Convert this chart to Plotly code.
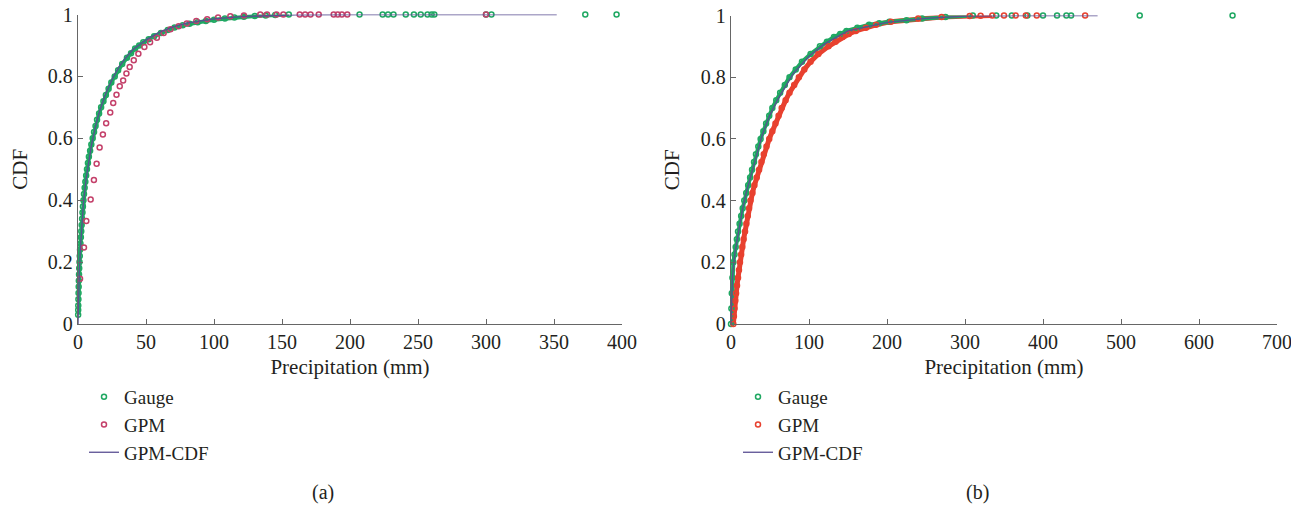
import plotly.graph_objects as go

# The page body has an 8px margin, so the figure is shifted by 8px; positions are given in page pixels.
PAGE_W, PAGE_H = 1299, 506
OFF = 8
W, H = PAGE_W - OFF, PAGE_H - OFF
FONT = "Liberation Serif"

def px(xp):
    return (xp - OFF) / W

def py(yp):
    return 1 - (yp - OFF) / H

# ---------------- Panel (a) ----------------
a_gauge_x = [0.1, 0.15, 0.2, 0.3, 0.4, 0.5, 0.6, 0.75, 0.9, 1.1, 1.3, 1.5, 1.8, 2.1, 2.4, 2.7, 3.0, 3.3, 3.6,
             4.0, 4.4, 4.9, 5.4, 6.0, 6.6, 7.3, 8.0, 8.9, 9.8, 10.8, 11.8, 12.9, 14.0, 15.5, 17.0, 18.7, 20.5,
             22.5, 24.5, 27.0, 29.5, 32.5, 36.0, 39.0, 42.0, 45.0, 48.0, 52.0, 56.0, 61.0, 66.0, 71.0, 77.0,
             82.0, 88.0, 94.0, 100.0, 108.0, 115.0, 122.0, 130.0, 138.0, 145.0, 155.0,
             207, 224, 228, 232, 241, 247, 252, 257, 260, 262, 300, 304, 373, 396]
a_gauge_y = [0.03, 0.045, 0.06, 0.08, 0.10, 0.12, 0.14, 0.16, 0.18, 0.20, 0.22, 0.24, 0.26, 0.28, 0.30, 0.32, 0.34, 0.36, 0.38,
             0.40, 0.42, 0.44, 0.46, 0.48, 0.50, 0.52, 0.54, 0.56, 0.58, 0.60, 0.62, 0.64, 0.66, 0.68, 0.70, 0.72, 0.74,
             0.76, 0.78, 0.80, 0.82, 0.84, 0.86, 0.875, 0.89, 0.90, 0.91, 0.92, 0.93, 0.94, 0.95, 0.958, 0.965,
             0.970, 0.975, 0.979, 0.983, 0.987, 0.990, 0.993, 0.995, 0.997, 0.998, 1.0,
             1, 1, 1, 1, 1, 1, 1, 1, 1, 1, 1, 1, 1, 1]

a_gpm_x = [1.5, 4.4, 6.1, 9.3, 11.7, 13.7, 15.9, 18.3, 20.7, 23.7, 25.9, 28.3, 30.7, 33.2, 35.6, 38.0, 41.0, 44.4,
           48.8, 53, 58, 63, 68, 74, 80, 87, 95, 103, 112, 122, 134, 139, 146, 151, 163, 167, 171, 177, 188, 191,
           194, 198, 300]
a_gpm_y = [0.146, 0.247, 0.333, 0.402, 0.465, 0.518, 0.570, 0.612, 0.649, 0.683, 0.714, 0.741, 0.768, 0.787, 0.809,
           0.830, 0.852, 0.873, 0.895, 0.91, 0.925, 0.94, 0.952, 0.962, 0.971, 0.979, 0.985, 0.990, 0.994, 0.997,
           1, 1, 1, 1, 1, 1, 1, 1, 1, 1, 1, 1, 1]

a_cdf_x = [0, 0.3, 0.6, 1, 2, 3, 4, 6, 8, 10, 13, 16, 20, 25, 30, 35, 40, 50, 60, 70, 80, 90, 100, 120, 140, 160,
           200, 250, 300, 352]
a_cdf_y = [0, 0.07, 0.12, 0.17, 0.26, 0.33, 0.39, 0.47, 0.53, 0.58, 0.64, 0.69, 0.74, 0.79, 0.83, 0.86, 0.885,
           0.918, 0.943, 0.96, 0.972, 0.98, 0.986, 0.993, 0.997, 0.999, 1, 1, 1, 1]

# ---------------- Panel (b) ----------------
b_gauge_x = [0, 0.5, 1.0, 1.8, 3.0, 4.5, 6.0, 7.5, 9.0, 11.0, 13.0, 15.0, 17.0, 19.5, 22.0, 24.5, 27.0, 29.5, 32.0,
             35.0, 38.0, 41.5, 45.0, 49.0, 53.0, 58.0, 63.0, 69.0, 75.0, 83.0, 91.0, 102.0, 114.0, 123.0, 132.0,
             140.0, 148.0, 162.0, 177.0, 190.0, 203.0, 225.0, 245.0, 275.0, 310.0, 340, 360, 380, 400, 418, 430,
             436, 524, 643]
b_gauge_y = [0, 0.05, 0.10, 0.15, 0.20, 0.225, 0.25, 0.275, 0.30, 0.325, 0.35, 0.375, 0.40, 0.425, 0.45, 0.475, 0.50,
             0.525, 0.55, 0.575, 0.60, 0.625, 0.65, 0.675, 0.70, 0.725, 0.75, 0.775, 0.80, 0.825, 0.85, 0.875, 0.90,
             0.915, 0.93, 0.94, 0.95, 0.96, 0.97, 0.975, 0.98, 0.985, 0.99, 0.995, 1.0, 1, 1, 1, 1, 1, 1,
             1, 1, 1]

b_gpm_x = [3.0, 3.7, 4.5, 5.5, 6.5, 7.7, 9.0, 10.2, 11.5, 13.0, 14.5, 16.2, 18.0, 19.7, 21.5, 23.2, 25.0, 27.5,
           30.0, 33.0, 36.0, 39.0, 42.0, 45.5, 49.0, 53.0, 57.0, 61.0, 65.0, 70.0, 75.0, 81.0, 87.0, 94.0, 102.0,
           112.0, 125.0, 134.0, 143.0, 151.0, 160.0, 173.0, 186.0, 205.0, 240.0, 270.0, 306, 320, 335, 350, 365,
           378, 392, 454]
b_gpm_y = [0, 0.025, 0.05, 0.075, 0.10, 0.125, 0.15, 0.175, 0.20, 0.225, 0.25, 0.275, 0.30, 0.325, 0.35, 0.375, 0.40,
           0.425, 0.45, 0.475, 0.50, 0.525, 0.55, 0.575, 0.60, 0.625, 0.65, 0.675, 0.70, 0.725, 0.75, 0.775, 0.80,
           0.825, 0.85, 0.875, 0.90, 0.915, 0.93, 0.94, 0.95, 0.96, 0.97, 0.98, 0.99, 0.995, 0.998, 0.999, 1, 1, 1,
           1, 1, 1]

b_cdf_x = [0, 1, 2, 5, 10, 15, 20, 30, 40, 50, 60, 80, 100, 120, 150, 200, 250, 300, 350, 400, 470]
b_cdf_y = [0, 0.10, 0.155, 0.23, 0.31, 0.375, 0.43, 0.525, 0.612, 0.678, 0.728, 0.812, 0.868, 0.908, 0.95, 0.978,
           0.991, 0.998, 1, 1, 1]

y_ticks = [0, 0.2, 0.4, 0.6, 0.8, 1]
y_tick_text = ["0", "0.2", "0.4", "0.6", "0.8", "1"]
a_x_ticks = [0, 50, 100, 150, 200, 250, 300, 350, 400]
b_x_ticks = [0, 100, 200, 300, 400, 500, 600, 700]

GREEN = "#1fa862"
RED_A = "#c4406a"
RED_B = "#e8412f"
LINE = "#5a4f92"

fig = go.Figure()

def curve_part(xs, ys):
    # the dense rising part of the empirical CDF (up to the first point that reaches 1)
    n = next(i for i, v in enumerate(ys) if v >= 1) + 1
    return xs[:n], ys[:n]

def panel(xa, ya, gx, gy, rx, ry, cx, cy, red_col, red_band, legend):
    if red_band:
        bx, by = curve_part(rx, ry)
        fig.add_trace(go.Scatter(x=bx, y=by, mode="lines", line=dict(color=red_col, width=5),
                                 xaxis=xa, yaxis=ya, showlegend=False, cliponaxis=False, hoverinfo="skip"))
    bx, by = curve_part(gx, gy)
    fig.add_trace(go.Scatter(x=bx, y=by, mode="lines", line=dict(color=GREEN, width=4),
                             xaxis=xa, yaxis=ya, showlegend=False, cliponaxis=False, hoverinfo="skip"))
    fig.add_trace(go.Scatter(x=gx, y=gy, mode="markers", name="Gauge",
                             marker=dict(symbol="circle-open", size=5, color=GREEN, line=dict(width=1.5)),
                             xaxis=xa, yaxis=ya, legend=legend, cliponaxis=False))
    fig.add_trace(go.Scatter(x=rx, y=ry, mode="markers", name="GPM",
                             marker=dict(symbol="circle-open", size=5, color=red_col, line=dict(width=1.5)),
                             xaxis=xa, yaxis=ya, legend=legend, cliponaxis=False))
    fig.add_trace(go.Scatter(x=cx, y=cy, mode="lines", name="GPM-CDF",
                             line=dict(color=LINE, width=1.3),
                             xaxis=xa, yaxis=ya, legend=legend, cliponaxis=False))

panel("x", "y", a_gauge_x, a_gauge_y, a_gpm_x, a_gpm_y, a_cdf_x, a_cdf_y, RED_A, False, "legend")
panel("x2", "y2", b_gauge_x, b_gauge_y, b_gpm_x, b_gpm_y, b_cdf_x, b_cdf_y, RED_B, True, "legend2")

axfont = dict(family=FONT, size=20, color="#231f20")
titlefont = dict(family=FONT, size=21, color="#231f20")
legfont = dict(family=FONT, size=19, color="#231f20")
common_x = dict(showgrid=False, zeroline=False, showline=True, linecolor="#666", linewidth=1.3,
                ticks="inside", ticklen=5, tickcolor="#666", tickfont=axfont, automargin=False,
                ticklabeloverflow="allow",
                title=dict(text="Precipitation (mm)", font=titlefont, standoff=7))
common_y = dict(showgrid=False, zeroline=False, showline=True, linecolor="#666", linewidth=1.3,
                ticks="inside", ticklen=5, tickcolor="#666", tickfont=axfont, range=[0, 1], automargin=False,
                tickvals=y_ticks, ticktext=y_tick_text, ticklabeloverflow="allow",
                title=dict(text="CDF", font=titlefont, standoff=15))

fig.update_layout(
    width=W, height=H, margin=dict(l=0, r=0, t=0, b=0),
    paper_bgcolor="white", plot_bgcolor="white",
    xaxis=dict(domain=[px(78), px(622)], range=[0, 400], tickvals=a_x_ticks, anchor="y", **common_x),
    yaxis=dict(domain=[py(324), py(14.5)], anchor="x", **common_y),
    xaxis2=dict(domain=[px(731), px(1277)], range=[0, 700], tickvals=b_x_ticks, anchor="y2", **common_x),
    yaxis2=dict(domain=[py(324), py(15.5)], anchor="x2", **common_y),
    legend=dict(x=px(84), y=py(378), xanchor="left", yanchor="top", font=legfont,
                bgcolor="rgba(0,0,0,0)", itemwidth=30, tracegroupgap=0),
    legend2=dict(x=px(738), y=py(378), xanchor="left", yanchor="top", font=legfont,
                 bgcolor="rgba(0,0,0,0)", itemwidth=30, tracegroupgap=0),
    annotations=[
        dict(text="(a)", x=px(323), y=py(492), xref="paper", yref="paper", xanchor="center", yanchor="middle",
             showarrow=False, font=axfont),
        dict(text="(b)", x=px(977), y=py(492), xref="paper", yref="paper", xanchor="center", yanchor="middle",
             showarrow=False, font=axfont),
    ],
)

fig.write_html("out.html")
